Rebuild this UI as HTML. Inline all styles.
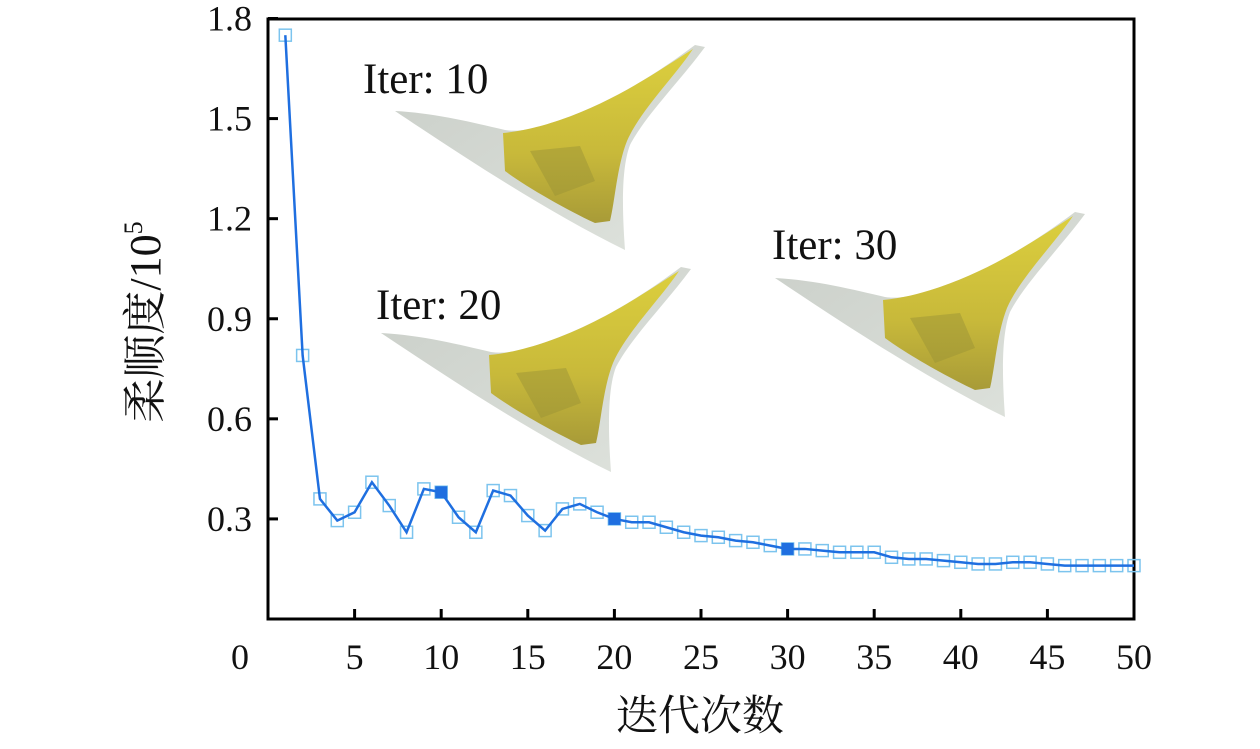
<!DOCTYPE html>
<html><head><meta charset="utf-8"><style>
body{margin:0;background:#fff}
svg text{font-family:"Liberation Serif","Noto Serif CJK SC",serif;fill:#111}
</style></head><body>
<svg width="1260" height="744" viewBox="0 0 1260 744">
<defs>
<linearGradient id="gw" x1="0" y1="0" x2="1" y2="1"><stop offset="0" stop-color="#c9cec8"/><stop offset="1" stop-color="#dfe3dd"/></linearGradient>
<linearGradient id="gy" x1="0" y1="0" x2="0" y2="1"><stop offset="0" stop-color="#dccf3e"/><stop offset="0.6" stop-color="#c8b93a"/><stop offset="1" stop-color="#a89b38"/></linearGradient>
<g id="wing">
<path d="M0,0 C40,2 80,12 110,19 C130,22 150,14 165,9 C220,-10 265,-40 300,-66 L310,-64 C285,-30 250,5 235,34 C225,60 228,110 230,139 C150,100 60,40 0,0 Z" fill="url(#gw)"/>
<path d="M108,22 C130,20 150,14 165,9 C220,-10 260,-38 298,-62 C280,-35 245,0 232,30 C222,55 220,90 215,110 L200,112 C170,98 130,75 110,60 Z" fill="url(#gy)"/>
<path d="M135,40 L185,35 L200,70 L160,85 Z" fill="#9c9335" opacity="0.5"/>
</g>
</defs>
<g id="plot"></g>
<use href="#wing" x="395" y="111"/>
<use href="#wing" x="381" y="333"/>
<use href="#wing" x="775" y="278"/>
<text x="363" y="93" font-size="43">Iter: 10</text>
<text x="376" y="319" font-size="43">Iter: 20</text>
<text x="772" y="259" font-size="43">Iter: 30</text>
<text x="700" y="730" font-size="42" text-anchor="middle">迭代次数</text>
<text transform="translate(160,322) rotate(-90)" font-size="44" text-anchor="middle">柔顺度/10<tspan font-size="26" dy="-18">5</tspan></text>
</svg>
<script>
const iters=[1,2,3,4,5,6,7,8,9,10,11,12,13,14,15,16,17,18,19,20,21,22,23,24,25,26,27,28,29,30,31,32,33,34,35,36,37,38,39,40,41,42,43,44,45,46,47,48,49,50];
const compliance=[1.75,0.79,0.36,0.295,0.32,0.41,0.34,0.26,0.39,0.38,0.305,0.26,0.385,0.37,0.31,0.265,0.33,0.345,0.32,0.30,0.29,0.29,0.275,0.26,0.25,0.245,0.235,0.23,0.22,0.21,0.21,0.205,0.20,0.20,0.20,0.185,0.18,0.18,0.175,0.17,0.165,0.165,0.17,0.17,0.165,0.16,0.16,0.16,0.16,0.16];
const highlighted=[10,20,30];
const xTicks=[0,5,10,15,20,25,30,35,40,45,50];
const yTicks=[0.3,0.6,0.9,1.2,1.5,1.8];
const yTickLabels=["0.3","0.6","0.9","1.2","1.5","1.8"];
const X0=268,X1=1134,Y0=619,YT=19;
const sx=v=>X0+(v/50)*(X1-X0);
const sy=v=>Y0-(v/1.8)*(Y0-YT+0.5);
const NS="http://www.w3.org/2000/svg";
const g=document.getElementById('plot');
function mk(t,a){const e=document.createElementNS(NS,t);for(const k in a)e.setAttribute(k,a[k]);g.appendChild(e);return e;}
const frame=mk('rect',{x:X0,y:YT,width:X1-X0,height:Y0-YT,fill:'none',stroke:'#000','stroke-width':3});


xTicks.forEach(t=>{
 const l=mk('line',{x1:sx(t),x2:sx(t),y1:Y0,y2:Y0-10,stroke:'#000','stroke-width':3});
 
 
 if(t===0)return;
 const tx=mk('text',{x:sx(t),y:Y0+50,'font-size':36,'text-anchor':'middle'});tx.textContent=t;
 
 
});
yTicks.forEach((t,i)=>{
 const l=mk('line',{x1:X0,x2:X0+10,y1:sy(t),y2:sy(t),stroke:'#000','stroke-width':3});
 
 
 const tx=mk('text',{x:X0-16,y:sy(t)+12,'font-size':36,'text-anchor':'end'});tx.textContent=yTickLabels[i];
 
 
});
iters.forEach((x,i)=>{
 const m=mk('rect',{x:sx(x)-6,y:sy(compliance[i])-6,width:12,height:12,fill:'none',stroke:'#7cc4ee','stroke-width':1.5});
 
 
});
const line=mk('polyline',{points:iters.map((x,i)=>sx(x)+','+sy(compliance[i])).join(' '),fill:'none',stroke:'#1f6fe0','stroke-width':2.5});


highlighted.forEach(h=>{
 const i=iters.indexOf(h);
 const m=mk('rect',{x:sx(h)-6,y:sy(compliance[i])-6,width:12,height:12,fill:'#1f6fe0'});
 
 
});
const z=mk('text',{x:240,y:669,'font-size':36,'text-anchor':'middle'});z.textContent='0';


</script>
</body></html>
